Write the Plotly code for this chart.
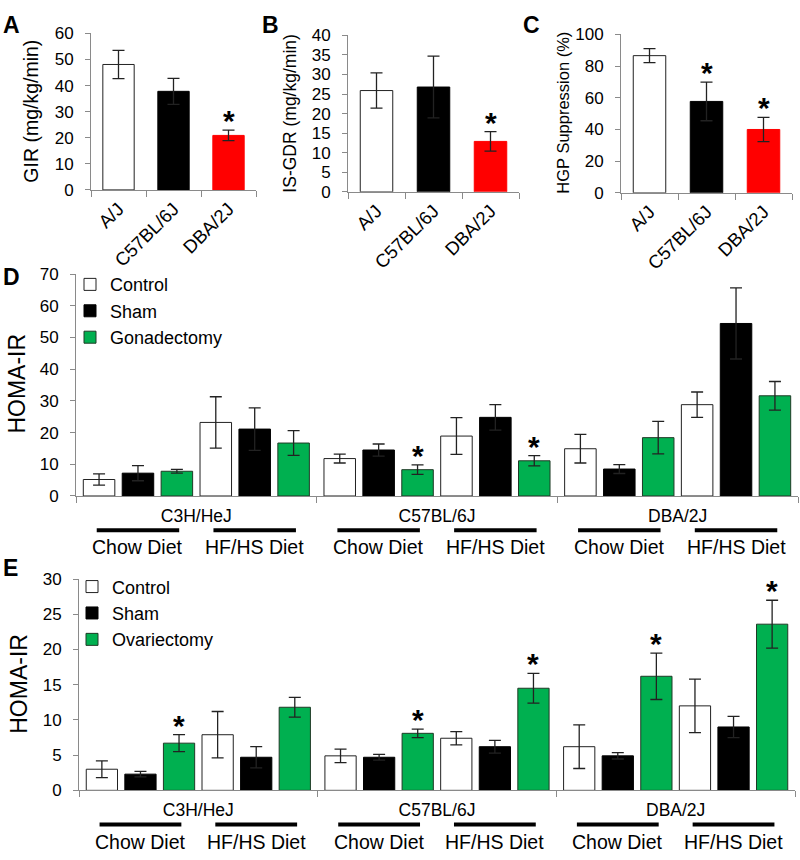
import plotly.graph_objects as go

FONT = "Liberation Sans, Arial, Helvetica, sans-serif"
AXIS_GRAY = "#8a8a8a"
GREEN = "#00B050"

# ---------------- Data: panels A-C ----------------
abc_categories = ["A/J", "C57BL/6J", "DBA/2J"]
gir_values = [48.1, 37.8, 20.9]
gir_errors = [5.4, 5.0, 2.0]
gir_sig = [False, False, True]
isgdr_values = [25.9, 26.8, 12.9]
isgdr_errors = [4.5, 7.9, 2.5]
isgdr_sig = [False, False, True]
hgp_values = [86.6, 57.7, 40.0]
hgp_errors = [4.4, 12.2, 7.7]
hgp_sig = [False, True, True]

# ---------------- Data: panels D and E ----------------
strains = ["C3H/HeJ", "C57BL/6J", "DBA/2J"]
diets = ["Chow Diet", "HF/HS Diet"]

d_group_names = ["Control", "Sham", "Gonadectomy"]
d_chow_control = [5.2, 11.8, 14.9]
d_chow_control_err = [1.8, 1.4, 4.5]
d_chow_sham = [7.2, 14.5, 8.5]
d_chow_sham_err = [2.4, 1.9, 1.4]
d_chow_gdx = [7.8, 8.3, 18.4]
d_chow_gdx_err = [0.6, 1.5, 5.1]
d_chow_gdx_sig = [False, True, False]
d_hf_control = [23.2, 18.9, 28.8]
d_hf_control_err = [8.1, 5.8, 4.0]
d_hf_sham = [21.1, 24.8, 54.4]
d_hf_sham_err = [6.7, 4.0, 11.2]
d_hf_gdx = [16.7, 11.1, 31.6]
d_hf_gdx_err = [3.9, 1.6, 4.5]
d_hf_gdx_sig = [False, True, False]

e_group_names = ["Control", "Sham", "Ovariectomy"]
e_chow_control = [3.0, 4.9, 6.2]
e_chow_control_err = [1.2, 0.95, 3.1]
e_chow_sham = [2.3, 4.7, 4.9]
e_chow_sham_err = [0.4, 0.4, 0.45]
e_chow_ovx = [6.7, 8.1, 16.2]
e_chow_ovx_err = [1.2, 0.6, 3.3]
e_chow_ovx_sig = [True, True, True]
e_hf_control = [7.9, 7.4, 12.0]
e_hf_control_err = [3.3, 0.95, 3.8]
e_hf_sham = [4.7, 6.2, 9.0]
e_hf_sham_err = [1.5, 0.9, 1.5]
e_hf_ovx = [11.8, 14.5, 23.6]
e_hf_ovx_err = [1.4, 2.1, 3.4]
e_hf_ovx_sig = [False, True, True]

NO_SIG = [False, False, False]

# ---------------- Figure ----------------
W, H = 800, 860
BARGAP = 0.03
BARGROUPGAP = 0.19
SLOT = (1 - BARGAP) / 6.0
STAR_FONT = dict(size=30, color="black", family=FONT)

fig = go.Figure()
annotations = []
shapes = []


def px_x(p):
    return p / W


def px_y(p):
    return 1 - p / H


def add_abc(idx, values, errors, sig):
    xa, ya = (f"x{idx}", f"y{idx}") if idx > 1 else ("x", "y")
    fig.add_trace(go.Bar(
        x=abc_categories, y=values, width=0.57,
        marker=dict(color=["white", "black", "#FF0000"],
                    line=dict(color=["#222222", "black", "#FF0000"], width=1)),
        error_y=dict(type="data", array=errors, color="#222222", thickness=1.3, width=6),
        showlegend=False, xaxis=xa, yaxis=ya))
    for c, v, e, s in zip(abc_categories, values, errors, sig):
        if s:
            annotations.append(dict(x=c, y=v + e, xref=xa, yref=ya, text="<b>*</b>",
                                    showarrow=False, yanchor="bottom", yshift=-9,
                                    font=STAR_FONT))


add_abc(1, gir_values, gir_errors, gir_sig)
add_abc(2, isgdr_values, isgdr_errors, isgdr_sig)
add_abc(3, hgp_values, hgp_errors, hgp_sig)

FILLS = ["white", "black", GREEN]
LINES = ["#222222", "black", "#1f3a26"]


def add_homa(idx, legend_name, group_names, series):
    xa, ya = f"x{idx}", f"y{idx}"
    for di, diet in enumerate(diets):
        for gi, gname in enumerate(group_names):
            vals, errs, sig = series[di][gi]
            fig.add_trace(go.Bar(
                x=strains, y=vals, name=gname,
                legendgroup=f"{legend_name}-{gname}", showlegend=(di == 0),
                legend=legend_name,
                marker=dict(color=FILLS[gi], line=dict(color=LINES[gi], width=1)),
                error_y=dict(type="data", array=errs, color="#222222", thickness=1.3, width=6),
                xaxis=xa, yaxis=ya))
            j = di * 3 + gi
            for s, (v, e, flag) in enumerate(zip(vals, errs, sig)):
                if flag:
                    annotations.append(dict(x=s + (j - 2.5) * SLOT, y=v + e, xref=xa, yref=ya,
                                            text="<b>*</b>", showarrow=False, yanchor="bottom",
                                            yshift=-9, font=STAR_FONT))


add_homa(4, "legend", d_group_names, [
    [(d_chow_control, d_chow_control_err, NO_SIG), (d_chow_sham, d_chow_sham_err, NO_SIG),
     (d_chow_gdx, d_chow_gdx_err, d_chow_gdx_sig)],
    [(d_hf_control, d_hf_control_err, NO_SIG), (d_hf_sham, d_hf_sham_err, NO_SIG),
     (d_hf_gdx, d_hf_gdx_err, d_hf_gdx_sig)],
])
add_homa(5, "legend2", e_group_names, [
    [(e_chow_control, e_chow_control_err, NO_SIG), (e_chow_sham, e_chow_sham_err, NO_SIG),
     (e_chow_ovx, e_chow_ovx_err, e_chow_ovx_sig)],
    [(e_hf_control, e_hf_control_err, NO_SIG), (e_hf_sham, e_hf_sham_err, NO_SIG),
     (e_hf_ovx, e_hf_ovx_err, e_hf_ovx_sig)],
])

# diet labels and bars under the strain labels
for idx, line_y, text_y in [(4, 533, 550), (5, 834, 852)]:
    for s in range(len(strains)):
        for di, diet in enumerate(diets):
            center = s + (di * 3 + 1 - 2.5) * SLOT
            half = 1.06 * SLOT
            shapes.append(dict(type="line", xref=f"x{idx}", yref="paper",
                               x0=center - half, x1=center + half,
                               y0=px_y(line_y), y1=px_y(line_y),
                               line=dict(color="black", width=4)))
            annotations.append(dict(x=center, y=px_y(text_y), xref=f"x{idx}", yref="paper",
                                    text=diet, showarrow=False, yanchor="middle",
                                    font=dict(size=19.5, color="black", family=FONT)))

# y-axis titles
for title, cx, cy, size in [("GIR (mg/kg/min)", 31, 105, 19.5),
                            ("IS-GDR (mg/kg/min)", 290, 107, 17.5),
                            ("HGP Suppression (%)", 563, 106, 16.5),
                            ("HOMA-IR", 17, 383, 23),
                            ("HOMA-IR", 19, 690, 23)]:
    annotations.append(dict(x=px_x(cx), y=px_y(cy), xref="paper", yref="paper", text=title,
                            textangle=-90, showarrow=False, xanchor="center", yanchor="middle",
                            font=dict(size=size, color="black", family=FONT)))

# panel letters
for letter, lx, ly in [("A", 1, 1), ("B", 260, 1), ("C", 521, 1), ("D", 1, 259), ("E", 1, 556)]:
    annotations.append(dict(x=px_x(lx), y=px_y(ly), xref="paper", yref="paper", text=f"<b>{letter}</b>",
                            showarrow=False, xanchor="left", yanchor="top",
                            font=dict(size=23, color="black", family=FONT)))

axis_common = dict(showline=True, linecolor=AXIS_GRAY, linewidth=1, ticks="outside",
                   tickcolor=AXIS_GRAY, ticklen=5, showgrid=False, zeroline=False,
                   tickfont=dict(size=17, color="black", family=FONT))


def xcat(domain, anchor, angle, fs, standoff):
    d = dict(axis_common)
    d.update(domain=domain, anchor=anchor, type="category", tickson="boundaries",
             tickangle=angle, range=[-0.5, 2.5], ticklen=6, ticklabelstandoff=standoff,
             tickfont=dict(size=fs, color="black", family=FONT))
    return d


def yval(domain, anchor, rng, dtick):
    d = dict(axis_common)
    d.update(domain=domain, anchor=anchor, range=rng, dtick=dtick, ticklabelstandoff=8)
    return d


fig.update_layout(
    width=W, height=H, margin=dict(l=0, r=0, t=0, b=0),
    paper_bgcolor="white", plot_bgcolor="white",
    font=dict(family=FONT, color="black"),
    barmode="group", bargap=BARGAP, bargroupgap=BARGROUPGAP,
    xaxis=xcat([px_x(91), px_x(256)], "y", -45, 18.5, 0),
    yaxis=yval([px_y(185), px_y(25)], "x", [0, 60], 10),
    xaxis2=xcat([px_x(348), px_x(519)], "y2", -45, 18.5, 0),
    yaxis2=yval([px_y(187), px_y(27)], "x2", [0, 40], 5),
    xaxis3=xcat([px_x(621), px_x(792)], "y3", -45, 18.5, 0),
    yaxis3=yval([px_y(188), px_y(26)], "x3", [0, 100], 20),
    xaxis4=xcat([px_x(76), px_x(798)], "y4", 0, 17.5, 4),
    yaxis4=yval([px_y(498), px_y(271)], "x4", [0, 70], 10),
    xaxis5=xcat([px_x(79), px_x(795)], "y5", 0, 17.5, 4),
    yaxis5=yval([px_y(799), px_y(583)], "x5", [0, 30], 5),
    legend=dict(x=px_x(70), y=px_y(263), xanchor="left", yanchor="top",
                bgcolor="rgba(0,0,0,0)", font=dict(size=18, color="black", family=FONT),
                tracegroupgap=0),
    legend2=dict(x=px_x(72), y=px_y(572), xanchor="left", yanchor="top",
                 bgcolor="rgba(0,0,0,0)", font=dict(size=18, color="black", family=FONT),
                 tracegroupgap=0),
    annotations=annotations, shapes=shapes,
)

fig.write_html("out.html", config={"displayModeBar": False},
               post_script="document.body.style.margin='0';")
